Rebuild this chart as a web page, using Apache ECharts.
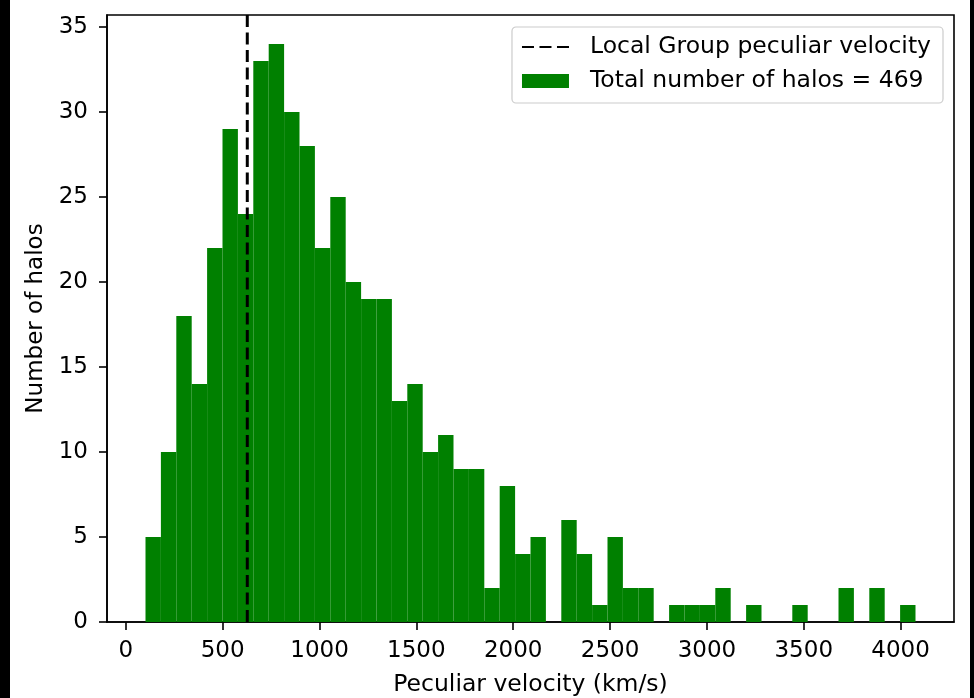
<!DOCTYPE html>
<html>
<head>
<meta charset="utf-8">
<script src="https://cdn.jsdelivr.net/npm/echarts@6/dist/echarts.min.js"></script>
<style>
  html, body { margin: 0; padding: 0; background: #fff; }
  #chart { width: 974px; height: 698px; }
</style>
</head>
<body>
<div id="chart"></div>
<script>
// Halo counts per peculiar-velocity bin (50 equal-width bins)
const counts = [5, 10, 18, 14, 22, 29, 24, 33, 34, 30,
                28, 22, 25, 20, 19, 19, 13, 14, 10, 11,
                9, 9, 2, 8, 4, 5, 0, 6, 4, 1,
                5, 2, 2, 0, 1, 1, 1, 2, 0, 1,
                0, 0, 1, 0, 0, 2, 0, 2, 0, 1];
// Lower edge of the first bin and upper edge of the last bin (km/s)
const binRange = [101.5, 4077];
// Local Group peculiar velocity (km/s)
const localGroupVelocity = [627];
const xTicks = [0, 500, 1000, 1500, 2000, 2500, 3000, 3500, 4000];
const yTicks = [0, 5, 10, 15, 20, 25, 30, 35];
const seriesNames = ['Local Group peculiar velocity', 'Total number of halos = 469'];

const FONT = 'DejaVu Sans';
const FS = 23;

// Build [start, end, count] rows for the histogram bars
const binWidth = (binRange[1] - binRange[0]) / counts.length;
const histData = counts.map((c, i) => [binRange[0] + i * binWidth, binRange[0] + (i + 1) * binWidth, c]);

// Axis limits with 5% padding on x, and headroom above the tallest bar on y
const span = binRange[1] - binRange[0];
const xMin = binRange[0] - 0.05 * span;
const xMax = binRange[1] + 0.05 * span;
const yMax = Math.max(...counts) * 1.05;

const plainNumber = v => String(v);

const chart = echarts.init(document.getElementById('chart'), null, { renderer: 'canvas' });

chart.setOption({
  animation: false,
  backgroundColor: '#ffffff',
  textStyle: { fontFamily: FONT, color: '#000' },
  grid: {
    left: 107, right: 20, top: 15, bottom: 76,
    outerBoundsMode: 'none',
    containLabel: false,
    show: true, borderColor: '#000', borderWidth: 1.6, backgroundColor: 'transparent'
  },
  legend: {
    orient: 'vertical',
    right: 31, top: 27,
    padding: [8, 12, 10, 9],
    itemGap: 10,
    itemWidth: 47,
    itemHeight: 14,
    backgroundColor: 'rgba(255,255,255,0.8)',
    borderColor: '#cccccc',
    borderWidth: 1.2,
    borderRadius: 4,
    textStyle: { fontFamily: FONT, fontSize: 23.5, color: '#000', lineHeight: 24, padding: [0, 0, 0, 16] },
    data: [
      { name: seriesNames[0], itemStyle: { opacity: 0 } },
      { name: seriesNames[1], icon: 'rect' }
    ]
  },
  xAxis: {
    type: 'value',
    min: xMin, max: xMax,
    name: 'Peculiar velocity (km/s)',
    nameLocation: 'middle',
    nameGap: 51,
    nameTextStyle: { fontFamily: FONT, fontSize: 23.5, color: '#000' },
    axisLine: { show: true, onZero: false, lineStyle: { color: '#000', width: 1.6 } },
    splitLine: { show: false },
    axisTick: { show: true, inside: false, length: 8, customValues: xTicks, lineStyle: { color: '#000', width: 1.6 } },
    axisLabel: { show: true, margin: 18, customValues: xTicks, formatter: plainNumber, fontFamily: FONT, fontSize: FS, color: '#000' }
  },
  yAxis: {
    type: 'value',
    min: 0, max: yMax,
    name: 'Number of halos',
    nameLocation: 'middle',
    nameGap: 58,
    nameTextStyle: { fontFamily: FONT, fontSize: FS, color: '#000' },
    axisLine: { show: true, onZero: false, lineStyle: { color: '#000', width: 1.6 } },
    splitLine: { show: false },
    axisTick: { show: true, inside: false, length: 8, customValues: yTicks, lineStyle: { color: '#000', width: 1.6 } },
    axisLabel: { show: true, margin: 19, customValues: yTicks, formatter: plainNumber, fontFamily: FONT, fontSize: FS, color: '#000' }
  },
  series: [
    {
      name: seriesNames[1],
      type: 'custom',
      itemStyle: { color: '#008000' },
      encode: { x: [0, 1], y: 2 },
      data: histData,
      z: 2,
      renderItem: function (params, api) {
        const topLeft = api.coord([api.value(0), api.value(2)]);
        const bottomRight = api.coord([api.value(1), 0]);
        return {
          type: 'rect',
          shape: {
            x: topLeft[0],
            y: topLeft[1],
            width: bottomRight[0] - topLeft[0],
            height: bottomRight[1] - topLeft[1]
          },
          style: { fill: '#008000' }
        };
      }
    },
    {
      name: seriesNames[0],
      type: 'line',
      symbol: 'none',
      z: 5,
      data: [[localGroupVelocity[0], 0], [localGroupVelocity[0], yMax]],
      lineStyle: { color: '#000', width: 3, type: [12, 5.5] },
      itemStyle: { color: '#000' }
    }
  ],
  graphic: [
    { type: 'rect', left: 0, top: 0, shape: { width: 10, height: 698 }, style: { fill: '#000' }, silent: true },
    { type: 'rect', left: 970, top: 0, shape: { width: 4, height: 698 }, style: { fill: '#000' }, silent: true }
  ]
});
</script>
</body>
</html>
